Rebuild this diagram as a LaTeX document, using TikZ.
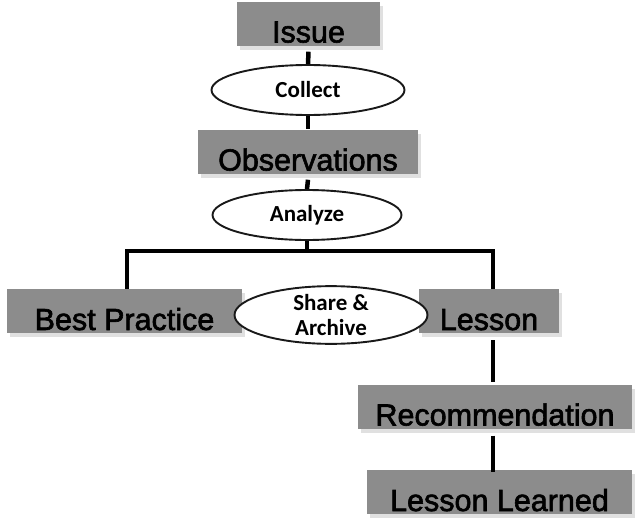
\documentclass[tikz,border=0pt]{standalone}
\usepackage{fontspec}
\setmainfont{Liberation Sans}
\newfontfamily\boxfont{Liberation Sans}[FakeBold=2]
\newfontfamily\ovalfont{Carlito}
\usetikzlibrary{positioning,shapes.geometric,shadows}

\begin{document}
\begin{tikzpicture}[
    x = 1pt, y = -1pt,
    stagebox/.style={
        rectangle, % shape
        fill = black!45, %the filling
        inner sep = 0pt,
        text height = 41pt, text depth = 3pt, % text sits low
        drop shadow = {shadow xshift = 3pt, shadow yshift = -4pt,
                       fill = black!12, opacity = 1},
        font = \boxfont\fontsize{30.5}{32}\selectfont %font
      },
    actoval/.style={
        ellipse, % shape
        draw = black!90, line width = 1.9pt, %border
        fill = white,
        inner sep = 0pt,
        align = center,
        font = \ovalfont\bfseries\fontsize{23}{24.5}\selectfont %font
      },
    link/.style={line width = 4.5pt, draw = black}]
  \useasboundingbox (0,0) rectangle (640,522);
  % boxes
  \node [stagebox, minimum width = 143pt] (issue) at (308.5,23.5) {Issue};
  \node [stagebox, minimum width = 220pt] (obs) at (308,151.5) {Observations};
  \node [stagebox, minimum width = 235pt] (best) at (124.5,311) {Best Practice};
  \node [stagebox, minimum width = 140pt] (lesson) at (489,311) {Lesson};
  \node [stagebox, minimum width = 274pt] (rec) at (495,406.5) {Recommendation};
  \node [stagebox, minimum width = 265pt] (learned) at (499.5,492) {Lesson Learned};
  % ovals
  \node [actoval, minimum width = 193pt, minimum height = 50pt] (collect) at (308,90) {Collect};
  \node [actoval, minimum width = 189pt, minimum height = 50pt] (analyze) at (307,215) {Analyze};
  \node [actoval, minimum width = 193pt, minimum height = 54pt] (share) at (331,315) {Share \&\\Archive};
  % joints of the split
  \coordinate (split) at (307,251);
  \coordinate (bl) at (127,251);
  \coordinate (br) at (493,251);
  % connectors
  \draw [link] ([yshift=-6pt]issue.south) -- (collect.north);
  \draw [link] (collect.south) -- (obs.north);
  \draw [link] ([yshift=-6pt]obs.south) -- (analyze.north);
  \draw [link] (analyze.south) -- (split);
  \draw [link] (bl |- best.north) -- (bl) -- (br) -- (br |- lesson.north);
  \draw [link] ([yshift=-7pt]br |- lesson.south) -- ([yshift=2pt]br |- rec.north);
  \draw [link] ([yshift=-7pt]br |- rec.south) -- ([yshift=-2pt]br |- learned.north);
\end{tikzpicture}
\end{document}
